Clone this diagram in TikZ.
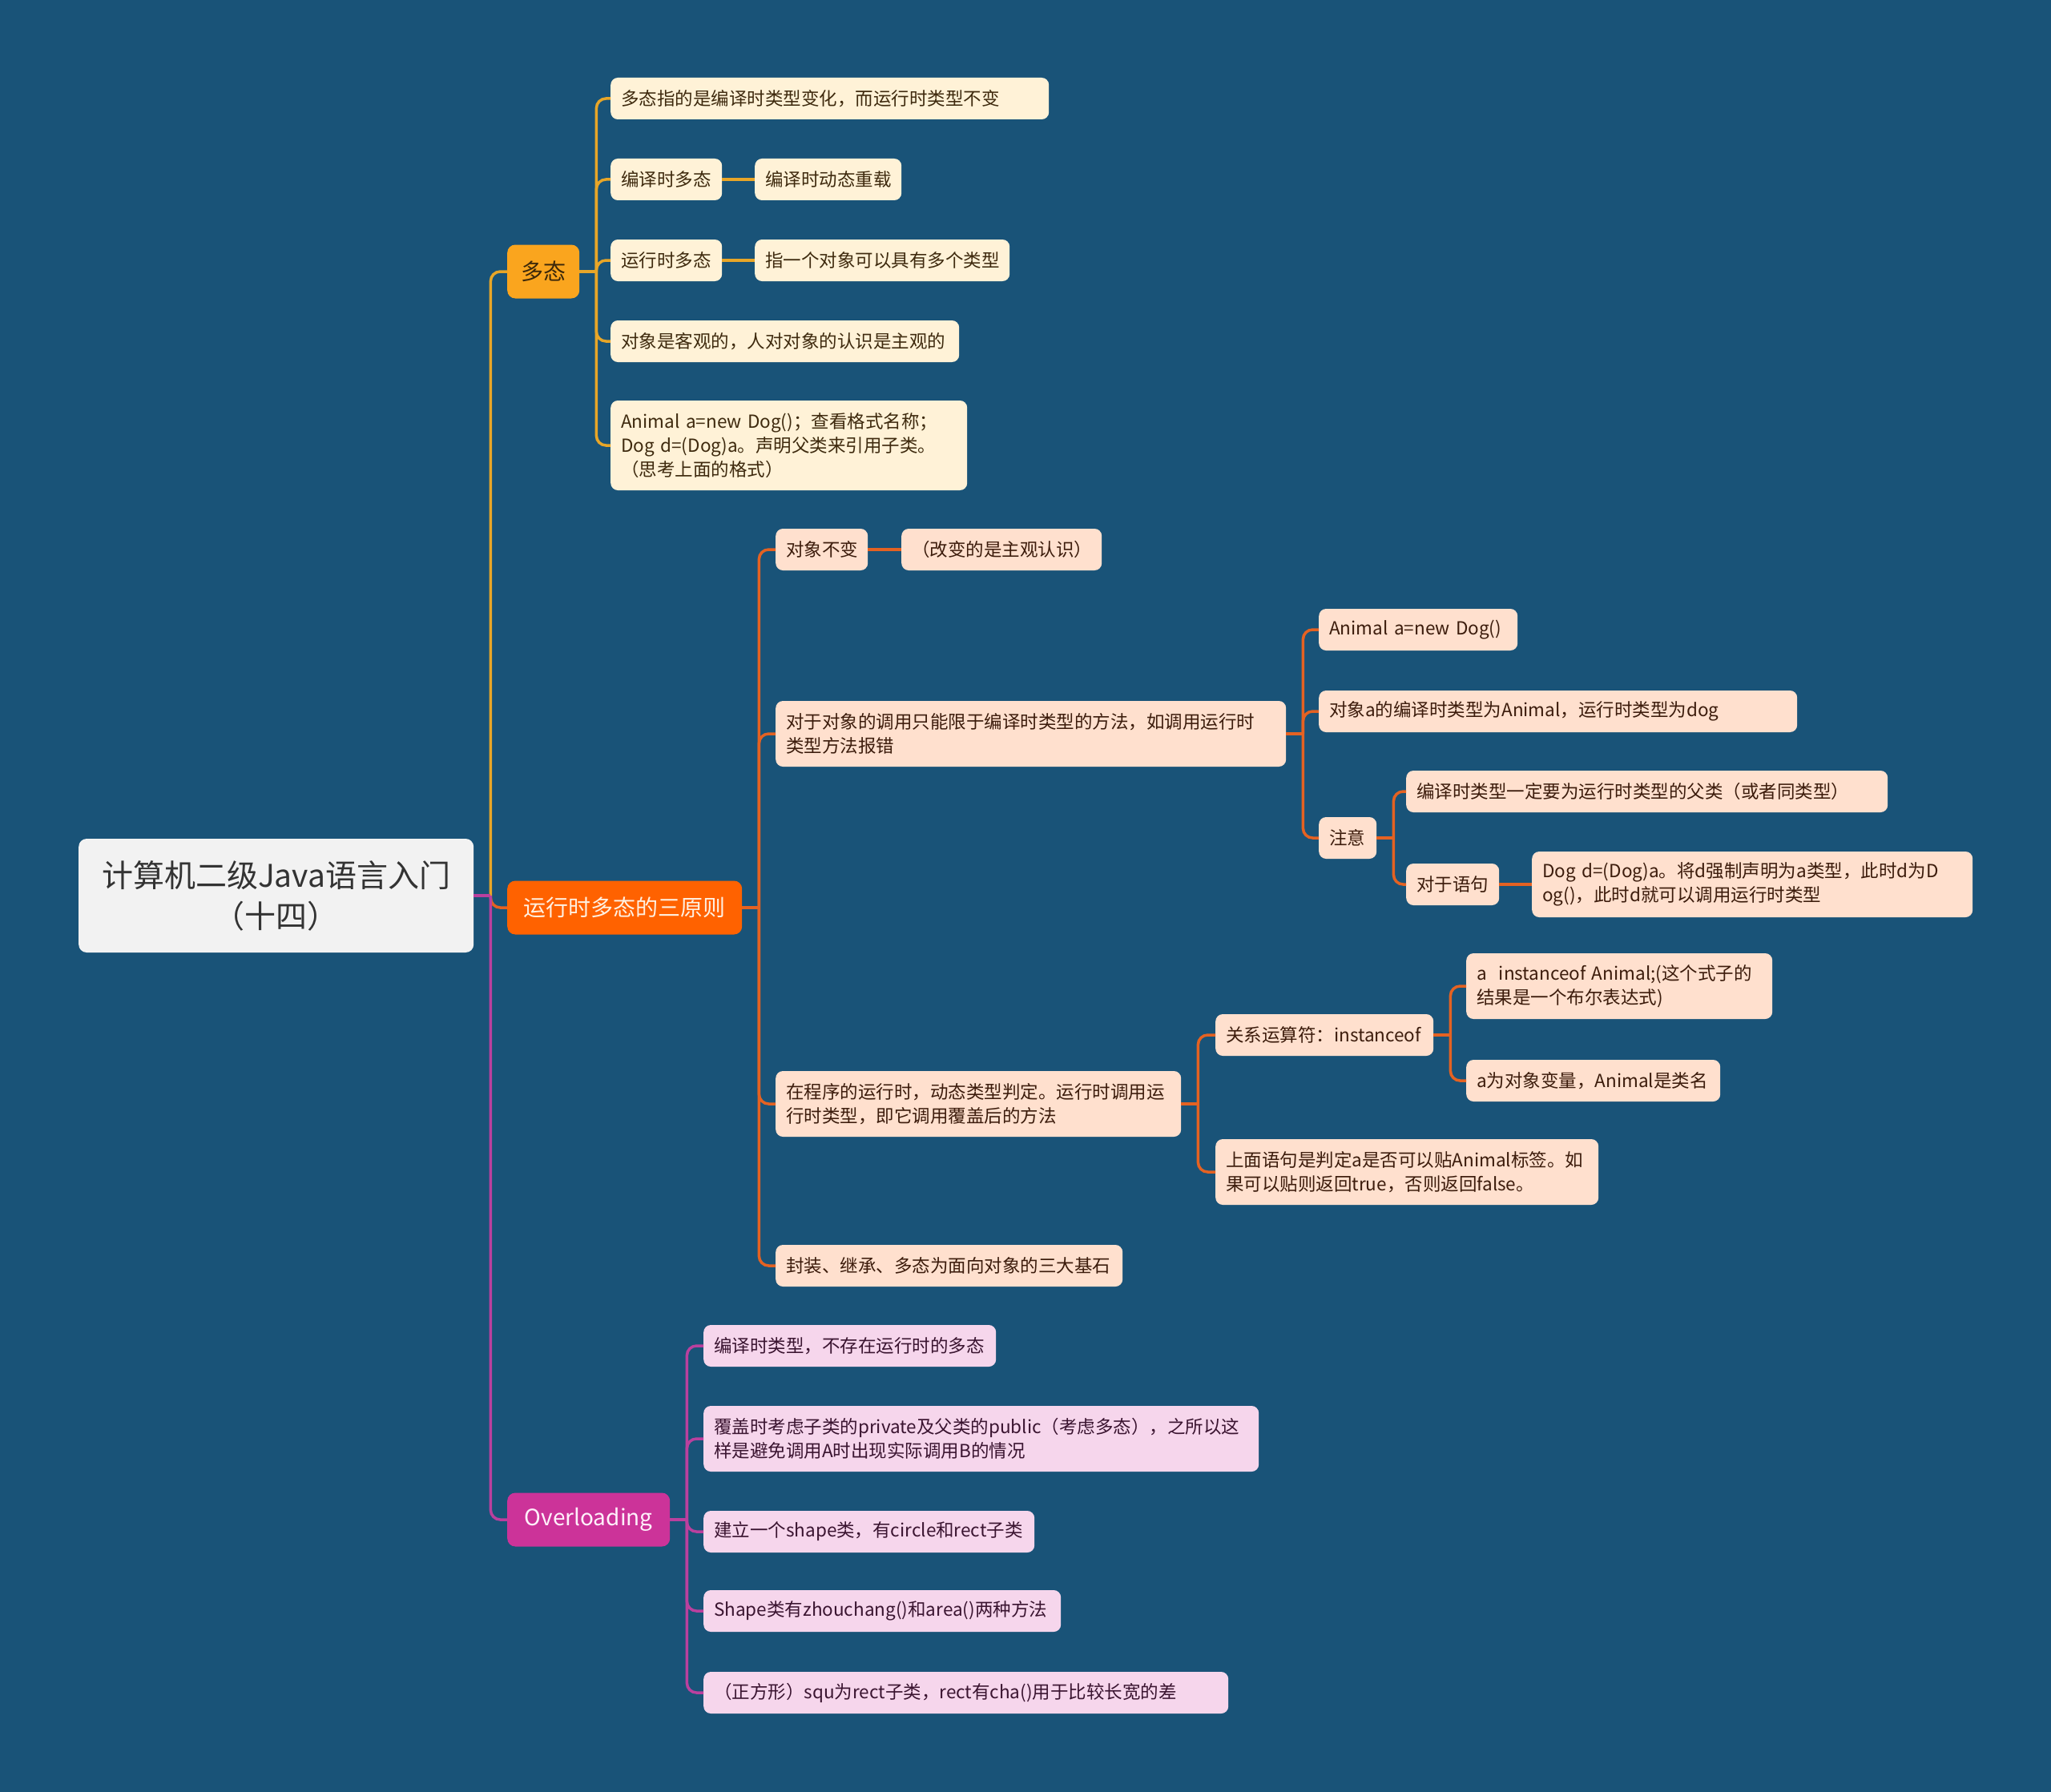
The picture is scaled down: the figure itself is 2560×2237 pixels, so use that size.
\documentclass[tikz,border=0pt]{standalone}
\usepackage{fontspec}
\setmainfont{Noto Sans CJK SC}
\usetikzlibrary{calc}
\definecolor{bg}{RGB}{25,83,120}
\definecolor{ylinec}{RGB}{232,166,40}
\definecolor{ybranch}{RGB}{250,165,30}
\definecolor{ybtext}{RGB}{60,40,10}
\definecolor{ycream}{RGB}{255,242,215}
\definecolor{ytext}{RGB}{62,42,14}
\definecolor{olinec}{RGB}{228,98,34}
\definecolor{obranch}{RGB}{255,98,0}
\definecolor{obtext}{RGB}{255,240,225}
\definecolor{opeach}{RGB}{255,224,206}
\definecolor{otext}{RGB}{60,28,12}
\definecolor{mlinec}{RGB}{186,64,158}
\definecolor{mbranch}{RGB}{204,51,153}
\definecolor{mbtext}{RGB}{255,240,250}
\definecolor{mpink}{RGB}{246,214,236}
\definecolor{mtext}{RGB}{58,20,48}
\definecolor{rootfill}{RGB}{242,242,242}
\definecolor{roottext}{RGB}{51,51,51}
\begin{document}
\begin{tikzpicture}[x=1pt,y=-1pt,
  leaf/.style={rounded corners=9pt, inner xsep=13pt, inner ysep=0pt, minimum height=52pt, align=left, anchor=west, font=\fontsize{22.5}{30}\selectfont},
  yleaf/.style={leaf, fill=ycream, text=ytext},
  oleaf/.style={leaf, fill=opeach, text=otext},
  mleaf/.style={leaf, fill=mpink, text=mtext},
  twoline/.style={minimum height=82pt},
  threeline/.style={minimum height=112pt},
  branch/.style={rounded corners=10pt, inner xsep=17pt, inner ysep=0pt, minimum height=67pt, anchor=west, font=\fontsize{28}{34}\selectfont},
  rootbox/.style={rounded corners=10pt, fill=rootfill, text=roottext, minimum width=493pt, minimum height=142pt, align=center, anchor=west, font=\fontsize{39}{51}\selectfont},
  conn/.style={line width=3.5pt, rounded corners=12pt},
  yl/.style={conn, draw=ylinec},
  ol/.style={conn, draw=olinec},
  ml/.style={conn, draw=mlinec},
]
\fill[bg] (0,0) rectangle (2560,2237);
\useasboundingbox (0,0) rectangle (2560,2237);

% root
\node[rootbox] (root) at (98,1118) {计算机二级Java语言入门\\（十四）};

% branches
\node[branch, fill=ybranch, text=ybtext, minimum width=89pt] (duotai) at (633,339) {多态};
\node[branch, fill=obranch, text=obtext, minimum width=293pt] (sanyuan) at (633,1133) {运行时多态的三原则};
\node[branch, fill=mbranch, text=mbtext, minimum width=203pt] (overl) at (633,1897) {Overloading};

% duotai leaves
\node[yleaf, text width=521pt] (d1) at (762,123) {多态指的是编译时类型变化，而运行时类型不变};
\node[yleaf, text width=113pt] (d2) at (762,224) {编译时多态};
\node[yleaf, text width=157pt] (d2c) at (942,224) {编译时动态重载};
\node[yleaf, text width=113pt] (d3) at (762,325) {运行时多态};
\node[yleaf, text width=292pt] (d3c) at (942,325) {指一个对象可以具有多个类型};
\node[yleaf, text width=409pt] (d4) at (762,426) {对象是客观的，人对对象的认识是主观的};
\node[yleaf, threeline, text width=419pt] (d5) at (762,556) {Animal a=new Dog()；查看格式名称；\\Dog d=(Dog)a。声明父类来引用子类。\\（思考上面的格式）};

% sanyuan leaves
\node[oleaf, text width=89pt] (r1) at (968,686) {对象不变};
\node[oleaf, text width=224pt] (r1c) at (1125,686) {（改变的是主观认识）};
\node[oleaf, twoline, text width=611pt] (r2) at (968,916) {对于对象的调用只能限于编译时类型的方法，如调用运行时\\类型方法报错};
\node[oleaf, text width=222pt] (r2a) at (1646,786) {Animal a=new Dog()};
\node[oleaf, text width=571pt] (r2b) at (1646,888) {对象a的编译时类型为Animal，运行时类型为dog};
\node[oleaf, text width=46pt] (r2c) at (1646,1046) {注意};
\node[oleaf, text width=575pt] (r2c1) at (1755,988) {编译时类型一定要为运行时类型的父类（或者同类型）};
\node[oleaf, text width=90pt] (r2c2) at (1755,1104) {对于语句};
\node[oleaf, twoline, text width=524pt] (r2c2c) at (1912,1104) {Dog d=(Dog)a。将d强制声明为a类型，此时d为D\\og()，此时d就可以调用运行时类型};
\node[oleaf, twoline, text width=480pt] (r3) at (968,1378) {在程序的运行时，动态类型判定。运行时调用运\\行时类型，即它调用覆盖后的方法};
\node[oleaf, text width=246pt] (r3a) at (1517,1292) {关系运算符：instanceof};
\node[oleaf, twoline, text width=356pt] (r3a1) at (1830,1231) {a~~instanceof Animal;(这个式子的\\结果是一个布尔表达式)};
\node[oleaf, text width=291pt] (r3a2) at (1830,1349) {a为对象变量，Animal是类名};
\node[oleaf, twoline, text width=452pt] (r3b) at (1517,1463) {上面语句是判定a是否可以贴Animal标签。如\\果可以贴则返回true，否则返回false。};
\node[oleaf, text width=407pt] (r4) at (968,1580) {封装、继承、多态为面向对象的三大基石};

% overloading leaves
\node[mleaf, text width=339pt] (o1) at (878,1680) {编译时类型，不存在运行时的多态};
\node[mleaf, twoline, text width=667pt] (o2) at (878,1796) {覆盖时考虑子类的private及父类的public（考虑多态），之所以这\\样是避免调用A时出现实际调用B的情况};
\node[mleaf, text width=387pt] (o3) at (878,1912) {建立一个shape类，有circle和rect子类};
\node[mleaf, text width=420pt] (o4) at (878,2011) {Shape类有zhouchang()和area()两种方法};
\node[mleaf, text width=629pt] (o5) at (878,2113) {（正方形）squ为rect子类，rect有cha()用于比较长宽的差};

% junction coordinates
\coordinate (jr) at ($(root.east)+(21,0)$);
\coordinate (jd) at ($(duotai.east)+(21,0)$);
\coordinate (js) at ($(sanyuan.east)+(21,0)$);
\coordinate (jr2) at ($(r2.east)+(21,0)$);
\coordinate (jr2c) at ($(r2c.east)+(21,0)$);
\coordinate (jr3) at ($(r3.east)+(21,0)$);
\coordinate (jr3a) at ($(r3a.east)+(21,0)$);
\coordinate (jo) at ($(overl.east)+(21,0)$);

% root connectors
\draw[yl] (jr) |- (duotai.west);
\draw[ol] (jr) |- (sanyuan.west);
\draw[ml] (root.east) -- (jr);
\draw[ml] (jr) |- (overl.west);

% duotai connectors
\draw[yl] (duotai.east) -- (jd);
\foreach \n in {d1,d2,d3,d4,d5} \draw[yl] (jd) |- (\n.west);
\draw[yl] (d2.east) -- (d2c.west);
\draw[yl] (d3.east) -- (d3c.west);

% sanyuan connectors
\draw[ol] (sanyuan.east) -- (js);
\foreach \n in {r1,r2,r3,r4} \draw[ol] (js) |- (\n.west);
\draw[ol] (r1.east) -- (r1c.west);
\draw[ol] (r2.east) -- (jr2);
\foreach \n in {r2a,r2b,r2c} \draw[ol] (jr2) |- (\n.west);
\draw[ol] (r2c.east) -- (jr2c);
\foreach \n in {r2c1,r2c2} \draw[ol] (jr2c) |- (\n.west);
\draw[ol] (r2c2.east) -- (r2c2c.west);
\draw[ol] (r3.east) -- (jr3);
\foreach \n in {r3a,r3b} \draw[ol] (jr3) |- (\n.west);
\draw[ol] (r3a.east) -- (jr3a);
\foreach \n in {r3a1,r3a2} \draw[ol] (jr3a) |- (\n.west);

% overloading connectors
\draw[ml] (overl.east) -- (jo);
\foreach \n in {o1,o2,o3,o4,o5} \draw[ml] (jo) |- (\n.west);
\end{tikzpicture}
\end{document}
